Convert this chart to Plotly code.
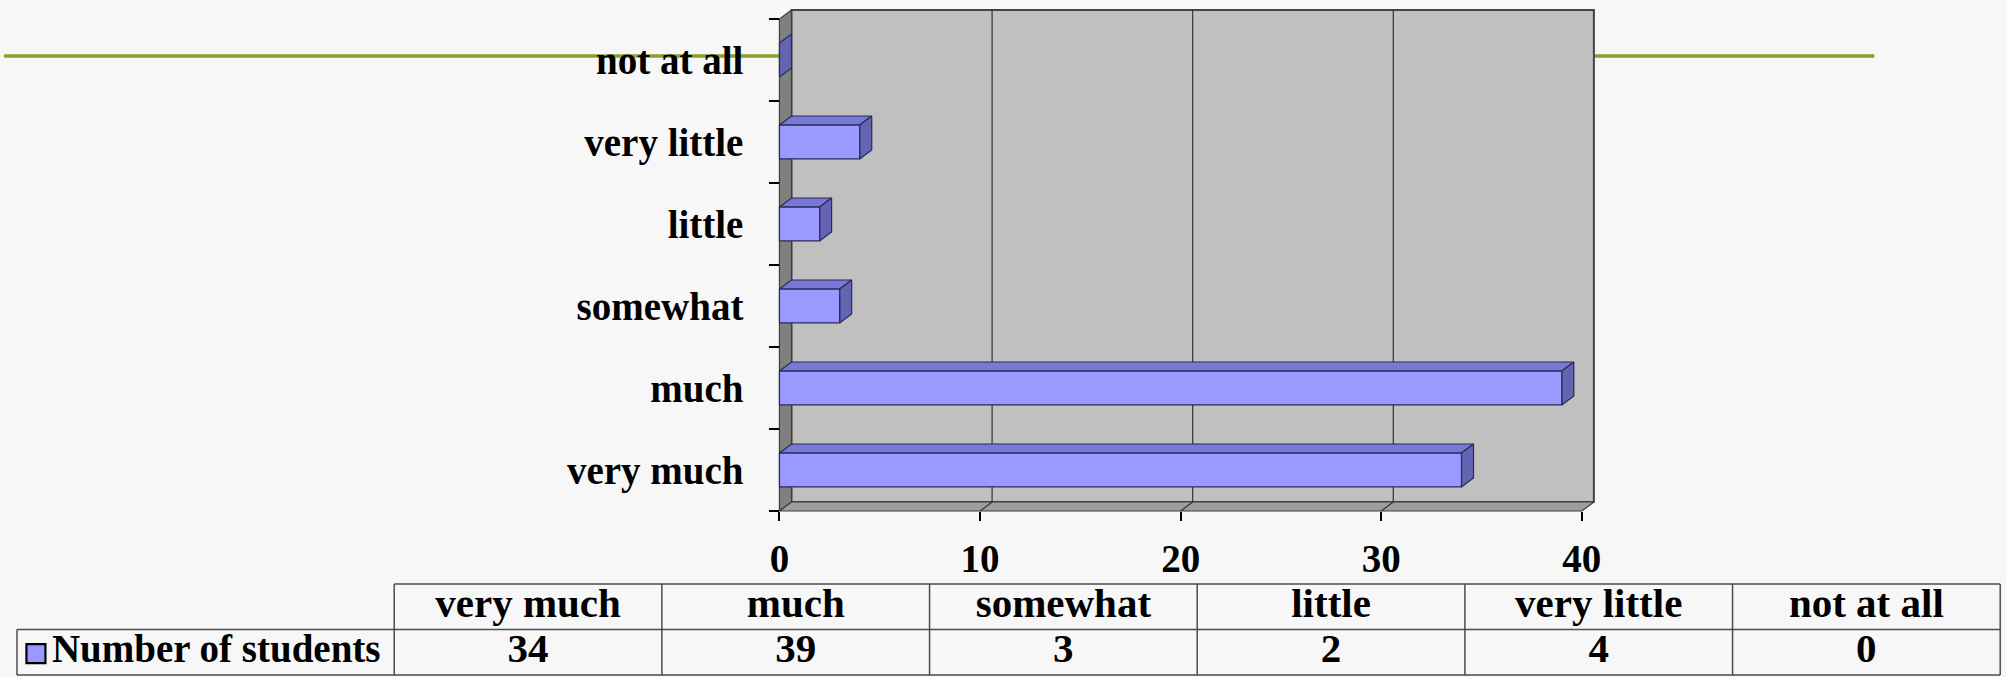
import plotly.graph_objects as go

# ---------------- data ----------------
categories = ["very much", "much", "somewhat", "little", "very little", "not at all"]
students = [34, 39, 3, 2, 4, 0]
x_ticks = [0, 10, 20, 30, 40]
series_name = "Number of students"

# ---------------- style / geometry ----------------
W, H = 2006, 677
FONT = "Liberation Serif"
DX, DY = 0.6, 0.11          # 3-D depth offset (data units)
HALF = 0.207                # half bar thickness (category units)
XMAX = x_ticks[-1]
FRONT, TOP, SIDE, EDGE = "#9999FF", "#7878D6", "#6464B2", "#2B2B55"

n = len(categories)
LO, HI = -0.5, n - 0.5

# pixel mapping used to place axis domains
SX, X0PX = 20.1, 777.0      # px per x unit, px of x=0
SY, Y0PX = 82.0, 470.0      # px per category, px of category 0
XR = [-0.3, 41.0]
YR = [-0.56, 5.66]
xdom = [(X0PX + XR[0] * SX) / W, (X0PX + XR[1] * SX) / W]
ydom = [(H - (Y0PX - YR[0] * SY)) / H, (H - (Y0PX - YR[1] * SY)) / H]
FRONT_BOTTOM_PX = Y0PX - LO * SY

# table mapping
TSX, T0PX = 268.2, 391.0
TSY, TY0PX = 45.5, 675.0
TLEFT = -(T0PX - 13.0) / TSX
TXR = [TLEFT - 0.02, len(categories) + 0.02]
TYR = [-0.03, 2.02]
txdom = [(T0PX + TXR[0] * TSX) / W, min(1.0, (T0PX + TXR[1] * TSX) / W)]
tydom = [max(0.0, (H - (TY0PX - TYR[0] * TSY)) / H), (H - (TY0PX - TYR[1] * TSY)) / H]

fig = go.Figure()


def poly(xs, ys, fill, line, width=1.0, xa="x", ya="y"):
    fig.add_trace(go.Scatter(
        x=list(xs) + [xs[0]], y=list(ys) + [ys[0]], mode="lines", fill="toself",
        fillcolor=fill, line=dict(color=line, width=width),
        hoverinfo="skip", showlegend=False, xaxis=xa, yaxis=ya))


def seg(xs, ys, color, width=1.2, xa="x", ya="y"):
    fig.add_trace(go.Scatter(
        x=xs, y=ys, mode="lines", line=dict(color=color, width=width),
        hoverinfo="skip", showlegend=False, xaxis=xa, yaxis=ya))


# walls and floor
poly([DX, XMAX + DX, XMAX + DX, DX], [LO + DY, LO + DY, HI + DY, HI + DY], "#C0C0C0", "#444444", 2.0)
poly([0, DX, DX, 0], [LO, LO + DY, HI + DY, HI], "#808080", "#3C3C3C", 1.2)
poly([0, XMAX, XMAX + DX, DX], [LO, LO, LO + DY, LO + DY], "#9E9E9E", "#3C3C3C", 1.2)

# gridlines on back wall and floor
for v in x_ticks[1:-1]:
    seg([v + DX, v + DX], [LO + DY, HI + DY], "#333333", 1.2)
    seg([v, v + DX], [LO, LO + DY], "#333333", 1.2)

# bars
for i, v in enumerate(students):
    y0, y1 = i - HALF, i + HALF
    if v > 0:
        poly([0, v, v + DX, DX], [y1, y1, y1 + DY, y1 + DY], TOP, EDGE, 1.2)
    poly([v, v + DX, v + DX, v], [y0, y0 + DY, y1 + DY, y1], SIDE, EDGE, 1.2)
    if v > 0:
        poly([0, v, v, 0], [y0, y0, y1, y1], FRONT, EDGE, 1.2)

# dummy invisible traces so the overlay axes exist
fig.add_trace(go.Scatter(x=[20], y=[2], mode="markers", marker=dict(opacity=0),
                         hoverinfo="skip", showlegend=False, xaxis="x2", yaxis="y2"))
fig.add_trace(go.Scatter(x=[20], y=[2], mode="markers", marker=dict(opacity=0),
                         hoverinfo="skip", showlegend=False, xaxis="x2", yaxis="y3"))

# ---------------- data table ----------------
TA = dict(xa="x4", ya="y4")
ncol = len(categories)
BC = "#4D4D4D"
seg([0, ncol], [2, 2], BC, 1.5, **TA)
seg([TLEFT, ncol], [1, 1], BC, 1.5, **TA)
seg([TLEFT, ncol], [0, 0], BC, 1.5, **TA)
seg([TLEFT, TLEFT], [0, 1], BC, 1.5, **TA)
for j in range(ncol + 1):
    seg([j, j], [0, 2], BC, 1.5, **TA)

tfont = dict(family=FONT, size=41, color="black", weight="bold")
lfont = dict(family=FONT, size=39, color="black", weight="bold")
fig.add_trace(go.Scatter(
    x=[j + 0.5 for j in range(ncol)], y=[1.5] * ncol, mode="text",
    text=categories, textposition="middle center", textfont=tfont,
    hoverinfo="skip", showlegend=False, xaxis="x4", yaxis="y4", cliponaxis=False))
fig.add_trace(go.Scatter(
    x=[j + 0.5 for j in range(ncol)], y=[0.5] * ncol, mode="text",
    text=[str(v) for v in students], textposition="middle center", textfont=tfont,
    hoverinfo="skip", showlegend=False, xaxis="x4", yaxis="y4", cliponaxis=False))
fig.add_trace(go.Scatter(
    x=[(32 - T0PX) / TSX], y=[0.47], mode="markers",
    marker=dict(symbol="square", size=19, color=FRONT, line=dict(color="black", width=2.2)),
    hoverinfo="skip", showlegend=False, xaxis="x4", yaxis="y4", cliponaxis=False))
fig.add_trace(go.Scatter(
    x=[(48 - T0PX) / TSX], y=[0.5], mode="text", text=[series_name],
    textposition="middle right", textfont=lfont,
    hoverinfo="skip", showlegend=False, xaxis="x4", yaxis="y4", cliponaxis=False))

afont = dict(family=FONT, size=39, color="black", weight="bold")
fig.update_layout(
    width=W, height=H, autosize=False,
    margin=dict(l=0, r=0, t=0, b=0),
    paper_bgcolor="#F7F7F7", plot_bgcolor="rgba(0,0,0,0)",
    showlegend=False,
    xaxis=dict(domain=xdom, range=XR, visible=False, fixedrange=True, anchor="y"),
    yaxis=dict(domain=ydom, range=YR, visible=False, fixedrange=True, anchor="x"),
    xaxis2=dict(overlaying="x", anchor="free", position=(H - FRONT_BOTTOM_PX) / H,
                range=XR, side="bottom", tickmode="array", tickvals=x_ticks,
                ticktext=[str(t) for t in x_ticks], ticks="outside", ticklen=9,
                tickwidth=1.5, tickcolor="black", showgrid=False, zeroline=False,
                showline=False, tickfont=afont, ticklabelstandoff=4),
    yaxis2=dict(overlaying="y", anchor="free", position=X0PX / W, range=YR,
                side="left", tickmode="array", tickvals=list(range(n)),
                ticktext=categories, ticks="", showgrid=False, zeroline=False,
                showline=False, tickfont=afont, ticklabelstandoff=36),
    yaxis3=dict(overlaying="y", anchor="free", position=X0PX / W, range=YR,
                side="left", tickmode="array", tickvals=[k - 0.5 for k in range(n + 1)],
                ticks="outside", ticklen=10, tickwidth=1.5, tickcolor="black",
                showticklabels=False, showgrid=False, zeroline=False, showline=False),
    xaxis4=dict(domain=txdom, range=TXR, visible=False, fixedrange=True, anchor="y4"),
    yaxis4=dict(domain=tydom, range=TYR, visible=False, fixedrange=True, anchor="x4"),
    shapes=[dict(type="line", xref="paper", yref="paper", x0=0, x1=1874 / W,
                 y0=(H - 56) / H, y1=(H - 56) / H, layer="below",
                 line=dict(color="#8CA02A", width=3.5))],
)

fig.write_html("out.html", config={"displayModeBar": False},
               post_script="document.body.style.margin='0px';")
